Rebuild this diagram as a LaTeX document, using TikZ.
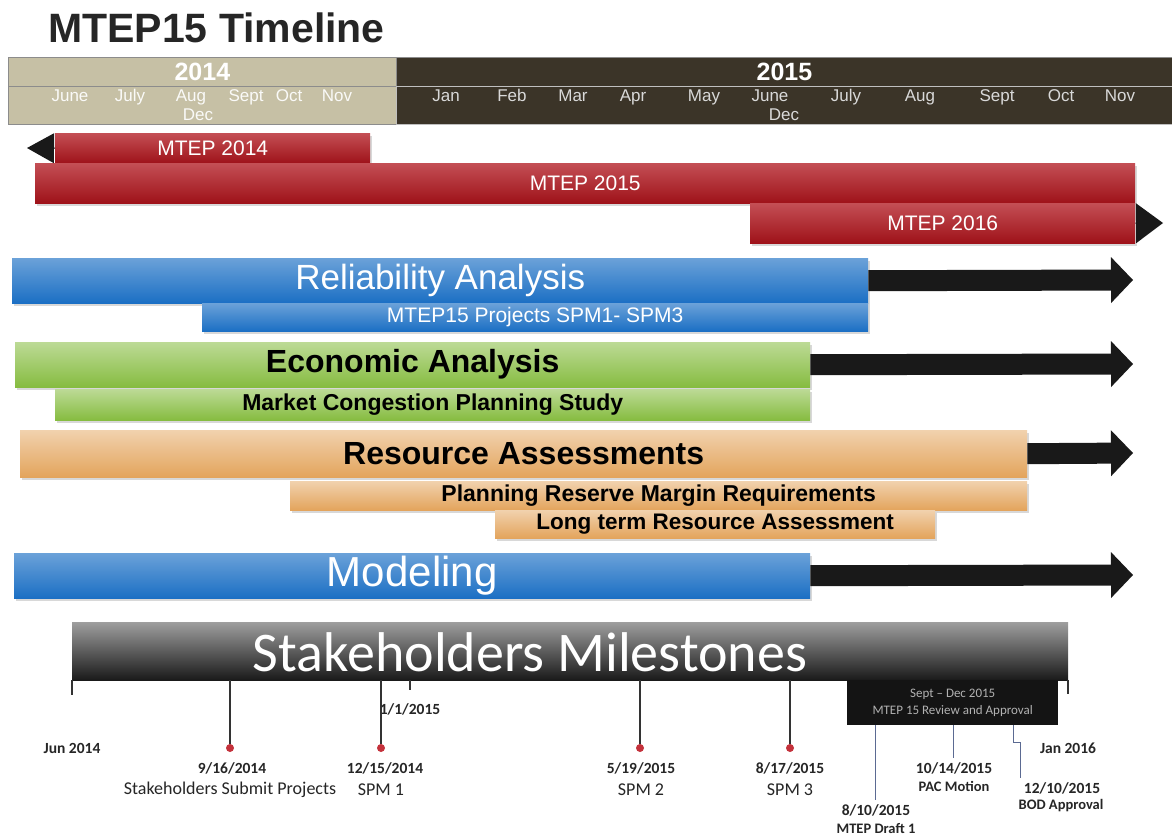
\documentclass[tikz,border=0pt]{standalone}
\usepackage{fontspec}
\setmainfont{Liberation Sans}
\newfontfamily\calfont{Carlito}
\usetikzlibrary{arrows.meta,calc,shadows}

\definecolor{oldhdr}{HTML}{C6C0A5}
\definecolor{newhdr}{HTML}{3B3428}
\definecolor{mtepred}{HTML}{B0141C}
\definecolor{relblue}{HTML}{1B6FC4}
\definecolor{ecogreen}{HTML}{86BC40}
\definecolor{resorange}{HTML}{E3A45C}
\definecolor{dotred}{HTML}{C4313B}
\definecolor{lblgray}{HTML}{262626}
\definecolor{revline}{HTML}{5B6A92}

\begin{document}
\begin{tikzpicture}[x=1pt,y=-1pt]
    \tikzset{bar/.style={anchor=north west, inner sep=0pt, text=white,
        drop shadow={shadow xshift=2pt, shadow yshift=-3pt, opacity=0.3}},
      redbar/.style={bar, top color=mtepred!75!white, bottom color=mtepred!90!black,
        font=\fontsize{21}{25}\selectfont},
      bluebar/.style={bar, top color=relblue!65!white, bottom color=relblue},
      greenbar/.style={bar, top color=ecogreen!55!white, bottom color=ecogreen,
        text=black},
      orangebar/.style={bar, top color=resorange!50!white, bottom color=resorange,
        text=black},
      hdr/.style={anchor=north west, inner sep=0pt, draw=black!45, line width=0.8pt},
      month/.style={font=\fontsize{17}{20}\selectfont, inner sep=0pt, anchor=base},
      blackarrow/.style={line width=21pt, black!90,
        -{Triangle[length=22pt, width=46pt, line width=0pt]}},
      redend/.style={line width=1pt, black!90,
        -{Triangle[length=27pt, width=#1, line width=0pt]}},
      msline/.style={line width=1.6pt, black!80},
      revln/.style={line width=0.9pt, revline},
      dot/.style={circle, fill=dotred, inner sep=0pt, minimum size=8pt},
      mstext/.style={font=\calfont\fontsize{18}{21}\selectfont, text=lblgray, inner sep=0pt},
      msdate/.style={font=\calfont\bfseries\fontsize{15.5}{19}\selectfont, text=lblgray, inner sep=0pt},
      mssmall/.style={font=\calfont\bfseries\fontsize{14.5}{18}\selectfont, text=lblgray, inner sep=0pt}}
    \fill[white] (0,0) rectangle (1172,839);
    \useasboundingbox (0,0) rectangle (1172,839);

    \node[anchor=west, inner sep=0pt, text=black!85,
      font=\bfseries\fontsize{41}{48}\selectfont] (title) at (48,28) {MTEP15 Timeline};

    % header
    \node[hdr, fill=oldhdr, minimum width=388pt, minimum height=29pt, text=white,
      font=\bfseries\fontsize{25}{30}\selectfont] (yr14) at (8,57) {2014};
    \node[hdr, fill=oldhdr, minimum width=388pt, minimum height=38pt] (row14) at (8,86) {};
    \node[hdr, fill=newhdr, minimum width=776pt, minimum height=29pt, text=white,
      font=\bfseries\fontsize{25}{30}\selectfont] (yr15) at (396,57) {2015};
    \node[hdr, fill=newhdr, draw=black!25, minimum width=776pt, minimum height=38pt] (row15) at (396,86) {};
    \foreach \m/\x in {June/70,July/130,Aug/191,Sept/246,Oct/289,Nov/337}
      \node[month, text=white!92!oldhdr] (mo\x) at (\x,101) {\m};
    \node[month, text=white!92!oldhdr] (dec14) at (198,120) {Dec};
    \foreach \m/\x in {Jan/446,Feb/512,Mar/573,Apr/633,May/704,June/770,July/846,Aug/920,Sept/997,Oct/1061,Nov/1120}
      \node[month, text=black!15] (mo\x) at (\x,101) {\m};
    \node[month, text=black!15] (dec15) at (784,120) {Dec};

    % MTEP cycles
    \node[redbar, minimum width=315pt, minimum height=30pt] (m14) at (55,133) {MTEP 2014};
    \node[redbar, minimum width=1100pt, minimum height=40pt] (m15) at (35,163) {MTEP 2015};
    \node[redbar, minimum width=385pt, minimum height=40pt] (m16) at (750,203) {MTEP 2016};
    \coordinate (m14tip) at (27,148);
    \coordinate (m16tip) at (1163,223);
    \draw[redend=30pt] (m14.west) -- (m14tip);
    \draw[redend=40pt] (m16.east) -- (m16tip);

    % analyses
    \node[bluebar, minimum width=856pt, minimum height=45pt,
      font=\fontsize{35}{42}\selectfont] (rel) at (12,258) {Reliability Analysis};
    \node[bluebar, minimum width=666pt, minimum height=28pt,
      font=\fontsize{21}{25}\selectfont] (relsub) at (202,303) {MTEP15 Projects SPM1- SPM3};
    \node[greenbar, minimum width=795pt, minimum height=45pt,
      font=\bfseries\fontsize{32}{38}\selectfont] (eco) at (15,342) {Economic Analysis};
    \node[greenbar, minimum width=755pt, minimum height=31pt,
      font=\bfseries\fontsize{23}{27}\selectfont] (ecosub) at (55,389) {Market Congestion Planning Study};
    \node[orangebar, minimum width=1007pt, minimum height=47pt,
      font=\bfseries\fontsize{32}{38}\selectfont] (res) at (20,430) {Resource Assessments};
    \node[orangebar, minimum width=737pt, minimum height=29pt,
      font=\bfseries\fontsize{23}{27}\selectfont] (ressub) at (290,481) {Planning Reserve Margin Requirements};
    \node[orangebar, minimum width=440pt, minimum height=28pt,
      font=\bfseries\fontsize{22.5}{27}\selectfont] (reslong) at (495,510) {Long term Resource Assessment};
    \node[bluebar, minimum width=796pt, minimum height=45pt,
      font=\fontsize{42}{48}\selectfont] (mod) at (14,553) {Modeling};
    \coordinate (relend) at (1133,280);
    \coordinate (ecoend) at (1133,364);
    \coordinate (resend) at (1133,453);
    \coordinate (modend) at (1133,575);
    \draw[blackarrow] (rel.east) -- (relend);
    \draw[blackarrow] (eco.east) -- (ecoend);
    \draw[blackarrow] (res.east) -- (resend);
    \draw[blackarrow] (mod.east) -- (modend);

    % stakeholders
    \node[anchor=north west, inner sep=0pt, minimum width=996pt, minimum height=58pt,
      top color=black!38, middle color=black!60, bottom color=black!90] (ms) at (72,622) {};
    \node[inner sep=0pt, text=white, font=\calfont\fontsize{56}{64}\selectfont]
      (mstxt) at (530,652) {Stakeholders Milestones};

    \coordinate (e0) at (72,680);
    \coordinate (e0b) at (72,695);
    \draw[msline] (e0) -- (e0b);
    \node[msdate] (jun14) at (72,748) {Jun 2014};
    \coordinate (e1) at (1068,680);
    \coordinate (e1b) at (1068,694);
    \draw[msline] (e1) -- (e1b);
    \node[msdate] (jan16) at (1068,748) {Jan 2016};
    \coordinate (n1) at (410,680);
    \coordinate (n1b) at (410,690);
    \draw[msline] (n1) -- (n1b);
    \node[msdate] (jan15) at (410,709) {1/1/2015};

    \coordinate (t1) at (230,680);
    \coordinate (t2) at (381,680);
    \coordinate (t3) at (640,680);
    \coordinate (t4) at (790,680);
    \node[dot] (d1) at (230,748) {};
    \node[dot] (d2) at (381,748) {};
    \node[dot] (d3) at (640,748) {};
    \node[dot] (d4) at (790,748) {};
    \draw[msline] (t1) -- (d1);
    \draw[msline] (t2) -- (d2);
    \draw[msline] (t3) -- (d3);
    \draw[msline] (t4) -- (d4);
    \node[msdate] (d1date) at ($(d1)+(2,20)$) {9/16/2014};
    \node[mstext] (d1lbl) at ($(d1)+(0,42)$) {Stakeholders Submit Projects};
    \node[msdate] (d2date) at ($(d2)+(4,20)$) {12/15/2014};
    \node[mstext] (d2lbl) at ($(d2)+(0,42)$) {SPM 1};
    \node[msdate] (d3date) at ($(d3)+(1,20)$) {5/19/2015};
    \node[mstext] (d3lbl) at ($(d3)+(1,42)$) {SPM 2};
    \node[msdate] (d4date) at ($(d4)+(0,20)$) {8/17/2015};
    \node[mstext] (d4lbl) at ($(d4)+(0,42)$) {SPM 3};

    % review and approval
    \node[anchor=north west, fill=black!92, inner sep=0pt, minimum width=211pt,
      minimum height=45pt, align=center, text=black!30,
      font=\calfont\fontsize{13}{17}\selectfont] (rev) at (847,680)
      {Sept – Dec 2015\\MTEP 15 Review and Approval};
    \coordinate (r1) at (875,800);
    \coordinate (r2) at (953,758);
    \coordinate (r3) at (1020,778);
    \draw[revln] (rev.south -| r1) -- (r1);
    \draw[revln] (rev.south -| r2) -- (r2);
    \draw[revln] (rev.south -| 1013,0) -- ++(0,17) -| (r3);
    \node[msdate] (r1date) at (876,810) {8/10/2015};
    \node[mssmall] (r1lbl) at (876,828) {MTEP Draft 1};
    \node[msdate] (r2date) at (954,768) {10/14/2015};
    \node[mssmall] (r2lbl) at (954,786) {PAC Motion};
    \node[msdate] (r3date) at (1062,788) {12/10/2015};
    \node[mssmall] (r3lbl) at (1061,806) {BOD Approval};
  \end{tikzpicture}
\end{document}
